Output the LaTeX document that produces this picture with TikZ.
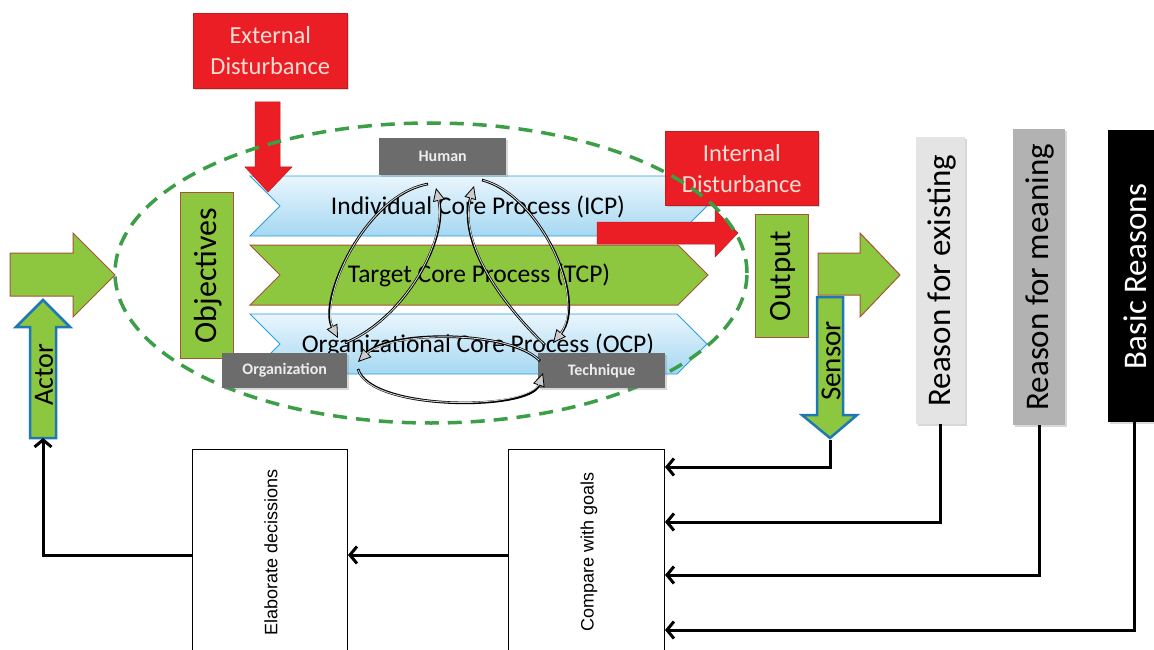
\documentclass[tikz,border=0pt]{standalone}
\usepackage{fontspec}
\setmainfont{Carlito}
\newfontfamily\arialfont{Liberation Sans}
\usetikzlibrary{arrows.meta,shadows,calc}

\definecolor{pgreen}{RGB}{141,198,63}
\definecolor{pbrown}{RGB}{165,85,55}
\definecolor{pred}{RGB}{234,30,36}
\definecolor{pdred}{RGB}{190,30,30}
\definecolor{pgray}{RGB}{108,108,108}
\definecolor{pblue}{RGB}{40,160,220}
\definecolor{pblueline}{RGB}{30,120,180}
\definecolor{lblueA}{RGB}{234,246,253}
\definecolor{lblueB}{RGB}{165,216,242}
\definecolor{dgreen}{RGB}{60,158,70}
\definecolor{pinktext}{RGB}{253,222,212}
\definecolor{rexcol}{RGB}{228,228,228}
\definecolor{rmeancol}{RGB}{178,178,178}

\newcommand\setfs[2]{\fontsize{#1}{#2}\selectfont}

\tikzset{
  shade/.style={drop shadow={shadow xshift=1.5pt,shadow yshift=-1.5pt,opacity=0.3}},
  redbox/.style={fill=pred, draw=pdred, line width=0.6pt, text=pinktext, align=center,
                 inner sep=0pt, anchor=north west, shade, font=\setfs{24.5}{31}},
  graybox/.style={fill=pgray, text=white!93!black, inner sep=0pt, anchor=north west,
                  shade, font=\bfseries\setfs{16}{18}},
  greenbox/.style={fill=pgreen, draw=pbrown, line width=1pt, inner sep=0pt, anchor=north west},
  reasonbox/.style={inner sep=0pt, anchor=north west, shade},
  chevblue/.style={top color=lblueA, bottom color=lblueB, draw=pblue, line width=0.8pt},
  chevgreen/.style={fill=pgreen, draw=pbrown, line width=1pt},
  greenarrow/.style={fill=pgreen, draw=pbrown, line width=1pt},
  bluearrow/.style={fill=pgreen, draw=pblueline, line width=2.5pt, line join=miter},
  redarrow/.style={fill=pred, draw=pdred, line width=0.5pt},
  proctext/.style={font=\setfs{25.5}{28}},
  vtext/.style={rotate=90, inner sep=0pt},
  plainbox/.style={draw=black, line width=1pt, fill=white, inner sep=0pt, anchor=north west},
  conn/.style={line width=3pt, -{Straight Barb[length=7pt,width=17pt]}},
  looparrow/.style={draw=black, line width=2.6pt,
                    -{Triangle[length=13pt,width=12pt,fill=gray!40,line width=0.8pt]}},
  loopcore/.style={draw=gray!35, line width=0.9pt, shorten >=10pt, shorten <=1pt}
}

\begin{document}
\begin{tikzpicture}[x=1pt,y=-1pt]
\useasboundingbox (0,0) rectangle (1154,650);
\fill[white] (0,0) rectangle (1154,650);

% core process chevrons
\path[chevblue]  (250,176) -- (677,176) -- (707,206) -- (677,236) -- (250,236) -- (280,206) -- cycle;
\path[chevgreen] (250,245) -- (678,245) -- (708,275) -- (678,305) -- (250,305) -- (280,275) -- cycle;
\path[chevblue]  (250,314) -- (677,314) -- (707,344) -- (677,374) -- (250,374) -- (280,344) -- cycle;
\node[proctext] (icp) at (478,207) {Individual Core Process (ICP)};
\node[proctext] (tcp) at (479,275) {Target Core Process (TCP)};
\node[proctext] (ocp) at (478,345) {Organizational Core Process (OCP)};

% disturbances
\node[redbox, minimum width=154pt, minimum height=75pt] (ext) at (193,13) {External\\Disturbance};
\path[redarrow] (255,102) -- (280,102) -- (280,167) -- (292,167) -- (268,192) -- (245,167) -- (255,167) -- cycle;
\node[redbox, minimum width=153pt, minimum height=74pt] (int) at (665,131) {Internal\\Disturbance};
\path[redarrow] (597,222) -- (715,222) -- (715,210) -- (738,233) -- (715,257) -- (715,244) -- (597,244) -- cycle;

% system boundary
\draw[dgreen, line width=3.5pt, dash pattern=on 14pt off 9pt]
  (431,273) ellipse [x radius=316pt, y radius=150pt];

% objectives and output
\node[greenbox, minimum width=53pt, minimum height=166pt] (obj) at (180,192) {};
\node[vtext, font=\setfs{32}{34}] at ([xshift=1pt]obj.center) {Objectives};
\node[greenbox, minimum width=53pt, minimum height=123pt] (out) at (755,214) {};
\node[vtext, font=\setfs{31}{33}] at ([xshift=1pt]out.center) {Output};

% input and output flow arrows
\path[greenarrow] (10,253) -- (73,253) -- (73,233) -- (115,275) -- (73,317) -- (73,296) -- (10,296) -- cycle;
\path[greenarrow] (818,253) -- (860,253) -- (860,233) -- (900,275) -- (860,317) -- (860,295) -- (818,295) -- cycle;

% actor and sensor
\path[bluearrow] (30,438) -- (30,327) -- (16,327) -- (43,300) -- (70,327) -- (56,327) -- (56,438) -- cycle;
\coordinate (actorBase) at (43,438);
\node[vtext, font=\setfs{28}{30}] (actor) at (44,375) {Actor};
\path[bluearrow] (817,297) -- (843,297) -- (843,415) -- (857,415) -- (830,438) -- (802,415) -- (817,415) -- cycle;
\coordinate (sensorTip) at (830,440);
\node[vtext, font=\setfs{29}{31}] (sensor) at (831,361) {Sensor};

% resources
\node[graybox, minimum width=127pt, minimum height=37pt] (human) at (379,138) {Human};
\node[graybox, minimum width=125pt, minimum height=35pt] (org) at (222,353) {Organization};
\node[graybox, minimum width=127pt, minimum height=35pt] (tech) at (538,353) {Technique};

% interaction loops between resources
\foreach \a/\b/\c/\d in {
    {(428,184)}/{(365,195)}/{(318,300)}/{(338,338)},
    {(345,343)}/{(405,318)}/{(448,240)}/{(436,188)},
    {(482,180)}/{(540,195)}/{(588,300)}/{(553,343)},
    {(545,345)}/{(498,300)}/{(458,240)}/{(474,186)},
    {(540,361)}/{(510,330)}/{(390,330)}/{(358,362)},
    {(358,369)}/{(370,411)}/{(530,411)}/{(543,373)}}{
  \draw[looparrow] \a .. controls \b and \c .. \d;
  \draw[loopcore]  \a .. controls \b and \c .. \d;
}

% reasons
\node[reasonbox, fill=rexcol, minimum width=49pt, minimum height=287pt] (rex) at (916,137) {};
\node[vtext, font=\setfs{33}{35}] at ([xshift=1pt]rex.center) {Reason for existing};
\node[reasonbox, fill=rmeancol, minimum width=52pt, minimum height=296pt] (rmean) at (1013,129) {};
\node[vtext, font=\setfs{33}{35}] at ([xshift=1pt]rmean.center) {Reason for meaning};
\node[reasonbox, fill=black, minimum width=52pt, minimum height=292pt] (rbasic) at (1108,130) {};
\node[vtext, font=\setfs{33}{35}, text=white] at ([xshift=1pt]rbasic.center) {Basic Reasons};

% control boxes
\node[plainbox, minimum width=155pt, minimum height=211pt] (elab) at (192,449) {};
\node[vtext, font=\arialfont\setfs{18}{20}] at (271,552) {Elaborate decissions};
\node[plainbox, minimum width=156pt, minimum height=211pt] (cmp) at (508,449) {};
\node[vtext, font=\arialfont\setfs{18}{20}] at (589,552) {Compare with goals};

% feedback connectors
\draw[conn] (cmp.west) -- (elab.east);
\draw[conn] (elab.west) -| (actorBase);
\draw[conn] (sensorTip) |- ([yshift=-18pt]cmp.north east);
\draw[conn] (rex.south) |- ([yshift=-73pt]cmp.north east);
\draw[conn] (rmean.south) |- ([yshift=-126pt]cmp.north east);
\draw[conn] (rbasic.south) |- ([yshift=-181pt]cmp.north east);
\end{tikzpicture}
\end{document}
